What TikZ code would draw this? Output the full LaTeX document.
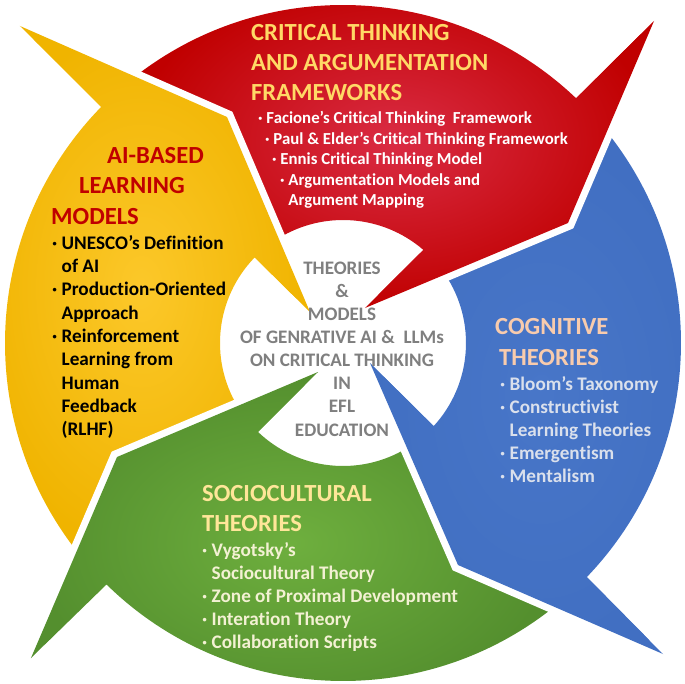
\documentclass[tikz,border=0pt]{standalone}
\usepackage{fontspec}
\setmainfont{Carlito}[Ligatures={TeX,NoCommon}]
\usepackage{tikz}
\usetikzlibrary{calc}
\definecolor{crimsonlight}{HTML}{DA2C44}
\definecolor{crimsondark}{HTML}{C00000}
\definecolor{amberlight}{HTML}{FCC82A}
\definecolor{amberdark}{HTML}{F0B400}
\definecolor{royallight}{HTML}{4876C8}
\definecolor{royaldark}{HTML}{416FC2}
\definecolor{leaflight}{HTML}{6EAF3E}
\definecolor{leafdark}{HTML}{548F2E}
\definecolor{goldtext}{HTML}{FFD966}
\definecolor{peachtext}{HTML}{F8CBAD}
\definecolor{creamtext}{HTML}{FFE699}
\definecolor{paleblue}{HTML}{DAE0EC}
\definecolor{palecream}{HTML}{F3F1D3}
\definecolor{hubgray}{HTML}{7F7F7F}
\definecolor{titlered}{HTML}{C00000}
\newcommand{\bul}{\textperiodcentered\ }
\newcommand{\cont}{\hphantom{\textperiodcentered\ }}
\newcommand{\outerR}{338pt}
\newcommand{\innerR}{123pt}
\newcommand{\redshape}{(128:\outerR) arc[start angle=128,end angle=46.4,radius=\outerR] -- (redout) -- (redtip) -- (redin) -- (49.2:\innerR) arc[start angle=49.2,end angle=121.6,radius=\innerR] -- (yellowtip) -- cycle}
\newcommand{\blueshape}{(38.7:\outerR) arc[start angle=38.7,end angle=-43.8,radius=\outerR] -- (blueout) -- (bluetip) -- (bluein) -- (-42.5:\innerR) arc[start angle=-42.5,end angle=33.9,radius=\innerR] -- (redtip) -- cycle}
\newcommand{\greenshape}{(-51.3:\outerR) arc[start angle=-51.3,end angle=-134.4,radius=\outerR] -- (greenout) -- (greentip) -- (greenin) -- (-133.7:\innerR) arc[start angle=-133.7,end angle=-58.6,radius=\innerR] -- (bluetip) -- cycle}
\newcommand{\yellowshape}{(218:\outerR) arc[start angle=218,end angle=135.7,radius=\outerR] -- (yellowout) -- (yellowtip) -- (yellowin) -- (135.9:\innerR) arc[start angle=135.9,end angle=210.9,radius=\innerR] -- (greentip) -- cycle}
\tikzset{
  redarrow/.style={inner color=crimsonlight,outer color=crimsondark},
  bluearrow/.style={inner color=royallight,outer color=royaldark},
  greenarrow/.style={inner color=leaflight,outer color=leafdark},
  yellowarrow/.style={inner color=amberlight,outer color=amberdark},
  gapline/.style={white,line width=14pt,line join=miter},
  titletext/.style={font=\bfseries\fontsize{24.6}{30}\selectfont,anchor=base west,inner sep=0pt},
  smalltext/.style={font=\bfseries\fontsize{16.8}{20}\selectfont,anchor=base west,inner sep=0pt},
  listtext/.style={font=\bfseries\fontsize{19.2}{23}\selectfont,anchor=base west,inner sep=0pt},
  hubtext/.style={font=\bfseries\fontsize{19.1}{23}\selectfont,anchor=base,inner sep=0pt,text=hubgray}
}
\begin{document}
\begin{tikzpicture}[x=1pt,y=1pt]
\useasboundingbox (-343,-340) rectangle (342,343);
% arrow heads: outer barb, tip, inner barb
\coordinate (redout) at (311,322);
\coordinate (redtip) at (225,120);
\coordinate (redin) at (22,35);
\coordinate (blueout) at (320,-311);
\coordinate (bluetip) at (115,-222);
\coordinate (bluein) at (27,-20);
\coordinate (greenout) at (-312,-315);
\coordinate (greentip) at (-226,-114);
\coordinate (greenin) at (-25,-29);
\coordinate (yellowout) at (-323,317);
\coordinate (yellowtip) at (-116,226);
\coordinate (yellowin) at (-33,31);
% the four curved arrows
\shade[redarrow] \redshape;
\shade[bluearrow] \blueshape;
\shade[greenarrow] \greenshape;
\shade[yellowarrow] \yellowshape;
% white gaps in front of each head
\draw[gapline] (redout) -- (redtip) -- (redin);
\draw[gapline] (blueout) -- (bluetip) -- (bluein);
\draw[gapline] (greenout) -- (greentip) -- (greenin);
\draw[gapline] (yellowout) -- (yellowtip) -- (yellowin);
% heads painted again over the gaps
\begin{scope}
\clip (redout) -- (redtip) -- (redin) -- cycle;
\shade[redarrow] \redshape;
\end{scope}
\begin{scope}
\clip (blueout) -- (bluetip) -- (bluein) -- cycle;
\shade[bluearrow] \blueshape;
\end{scope}
\begin{scope}
\clip (greenout) -- (greentip) -- (greenin) -- cycle;
\shade[greenarrow] \greenshape;
\end{scope}
\begin{scope}
\clip (yellowout) -- (yellowtip) -- (yellowin) -- cycle;
\shade[yellowarrow] \yellowshape;
\end{scope}
% critical thinking (red)
\foreach \txt [count=\i] in {CRITICAL THINKING,AND ARGUMENTATION,FRAMEWORKS}
  \node[titletext,text=goldtext] (ct-title-\i) at (-92,{332-30*\i}) {\txt};
\foreach \dx/\txt [count=\i] in {0/{\bul Facione's Critical Thinking\ \ Framework},7/{\bul Paul \& Elder's Critical Thinking Framework},14/{\bul Ennis Critical Thinking Model},22/{\bul Argumentation Models and},22/{\cont Argument Mapping}}
  \node[smalltext,text=white] (ct-item-\i) at ({-85+\dx},{239.4-20.4*\i}) {\txt};
% AI-based learning models (yellow)
\node[titletext,text=titlered] (ai-title-1) at (-236,180) {AI-BASED};
\node[titletext,text=titlered] (ai-title-2) at (-264,150) {LEARNING};
\node[titletext,text=titlered] (ai-title-3) at (-292,119) {MODELS};
\foreach \txt [count=\i] in {{\bul UNESCO's Definition},{\cont of AI},{\bul Production-Oriented},{\cont Approach},{\bul Reinforcement},{\cont Learning from},{\cont Human},{\cont Feedback},{\cont (RLHF)}}
  \node[listtext,text=black] (ai-item-\i) at (-291,{117-23.33*\i}) {\txt};
% cognitive theories (blue)
\node[titletext,text=peachtext] (cog-title-1) at (152,9) {COGNITIVE};
\node[titletext,text=peachtext] (cog-title-2) at (156,-22) {THEORIES};
\foreach \txt [count=\i] in {{\bul Bloom's Taxonomy},{\bul Constructivist},{\cont Learning Theories},{\bul Emergentism},{\bul Mentalism}}
  \node[listtext,text=paleblue] (cog-item-\i) at (157,{-24-23.1*\i}) {\txt};
% sociocultural theories (green)
\node[titletext,text=creamtext] (soc-title-1) at (-141,-158) {SOCIOCULTURAL};
\node[titletext,text=creamtext] (soc-title-2) at (-141,-188) {THEORIES};
\foreach \txt [count=\i] in {{\bul Vygotsky's},{\cont Sociocultural Theory},{\bul Zone of Proximal Development},{\bul Interation Theory},{\bul Collaboration Scripts}}
  \node[listtext,text=palecream] (soc-item-\i) at (-141,{-191-22.8*\i}) {\txt};
% centre
\foreach \txt [count=\i] in {THEORIES,\&,MODELS,{OF GENRATIVE AI \&\ \ LLMs},ON CRITICAL THINKING,IN,EFL,EDUCATION}
  \node[hubtext] (hub-\i) at (-1,{92.15-23.15*\i}) {\txt};
\end{tikzpicture}
\end{document}
